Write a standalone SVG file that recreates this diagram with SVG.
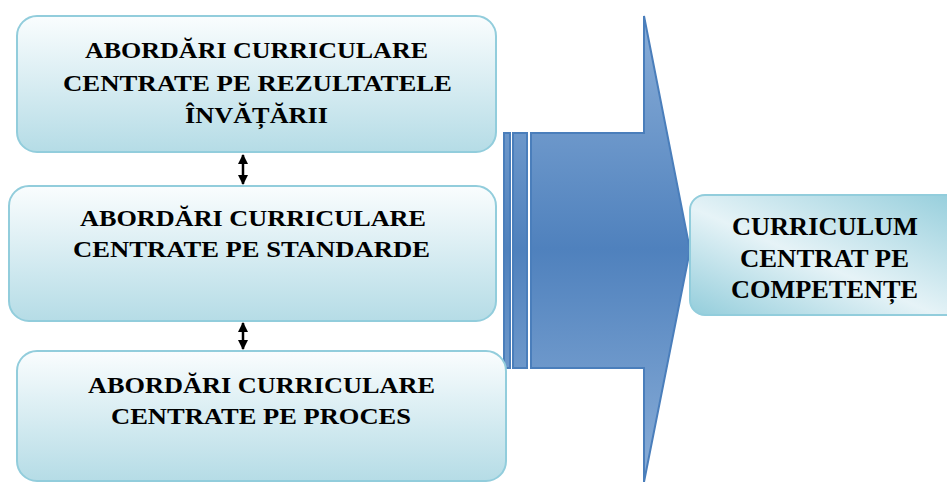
<svg xmlns="http://www.w3.org/2000/svg" width="947" height="482" viewBox="0 0 947 482">
<style>
.box{stroke:#92cddc;stroke-width:2;fill:url(#boxg)}
.t{font-family:"Liberation Serif","Times New Roman",serif;font-weight:bold;font-size:23px;fill:#000;text-anchor:middle}
.tr{font-family:"Liberation Serif","Times New Roman",serif;font-weight:bold;font-size:26px;fill:#000;text-anchor:middle}
.blue{fill:url(#blueg);stroke:#4a7ebb;stroke-width:2}
.con{stroke:#000;stroke-width:2.5;fill:none;marker-start:url(#ah);marker-end:url(#ah)}
</style>
<defs>
<linearGradient id="boxg" x1="0" y1="0" x2="0" y2="1">
<stop offset="0" stop-color="#fafdfe"/>
<stop offset="1" stop-color="#b5dce6"/>
</linearGradient>
<linearGradient id="rg" x1="0" y1="1" x2="1" y2="0">
<stop offset="0" stop-color="#93cddb"/>
<stop offset="0.45" stop-color="#e6f3f7"/>
<stop offset="1" stop-color="#93cddb"/>
</linearGradient>
<linearGradient id="blueg" gradientUnits="userSpaceOnUse" x1="0" y1="16" x2="0" y2="482">
<stop offset="0" stop-color="#8aaed8"/>
<stop offset="0.5" stop-color="#4f81bd"/>
<stop offset="1" stop-color="#8aaed8"/>
</linearGradient>
<marker id="ah" viewBox="0 0 10 10" refX="9" refY="5" markerWidth="4" markerHeight="4" orient="auto-start-reverse" markerUnits="strokeWidth">
<path d="M0,0 L10,5 L0,10 Z" fill="#000"/>
</marker>
</defs>
<g id="bigarrow">
<rect class="blue" x="504" y="133" width="6" height="235"/>
<rect class="blue" x="513" y="133" width="14" height="235"/>
<path class="blue" d="M531,133 L644,133 L644,16 L690,250 L644,482 L644,368 L531,368 Z"/>
</g>
<g id="node1">
<rect class="box" x="17" y="16" width="479" height="136" rx="20"/>
<text class="t" x="256.5" y="58" textLength="343" lengthAdjust="spacingAndGlyphs">ABORDĂRI CURRICULARE</text>
<text class="t" x="257.5" y="91" textLength="389" lengthAdjust="spacingAndGlyphs">CENTRATE PE REZULTATELE</text>
<text class="t" x="256.5" y="123" textLength="143" lengthAdjust="spacingAndGlyphs">ÎNVĂȚĂRII</text>
</g>
<g id="node2">
<rect class="box" x="9" y="186" width="487" height="135" rx="20"/>
<text class="t" x="253" y="226" textLength="346" lengthAdjust="spacingAndGlyphs">ABORDĂRI CURRICULARE</text>
<text class="t" x="251.5" y="257" textLength="357" lengthAdjust="spacingAndGlyphs">CENTRATE PE STANDARDE</text>
</g>
<g id="node3">
<rect class="box" x="17" y="351" width="489" height="130" rx="20"/>
<text class="t" x="261.5" y="393" textLength="347" lengthAdjust="spacingAndGlyphs">ABORDĂRI CURRICULARE</text>
<text class="t" x="261" y="424" textLength="300" lengthAdjust="spacingAndGlyphs">CENTRATE PE PROCES</text>
</g>
<g id="node4">
<rect x="690" y="195" width="275" height="120" rx="15" fill="url(#rg)" stroke="#92cddc" stroke-width="2"/>
<text class="tr" x="825" y="235" textLength="186" lengthAdjust="spacingAndGlyphs">CURRICULUM</text>
<text class="tr" x="824.5" y="267" textLength="169" lengthAdjust="spacingAndGlyphs">CENTRAT PE</text>
<text class="tr" x="824.5" y="298" textLength="187" lengthAdjust="spacingAndGlyphs">COMPETENȚE</text>
</g>
<g id="connectors">
<line class="con" x1="243" y1="155" x2="243" y2="184"/>
<line class="con" x1="243" y1="323" x2="243" y2="349"/>
</g>
</svg>
